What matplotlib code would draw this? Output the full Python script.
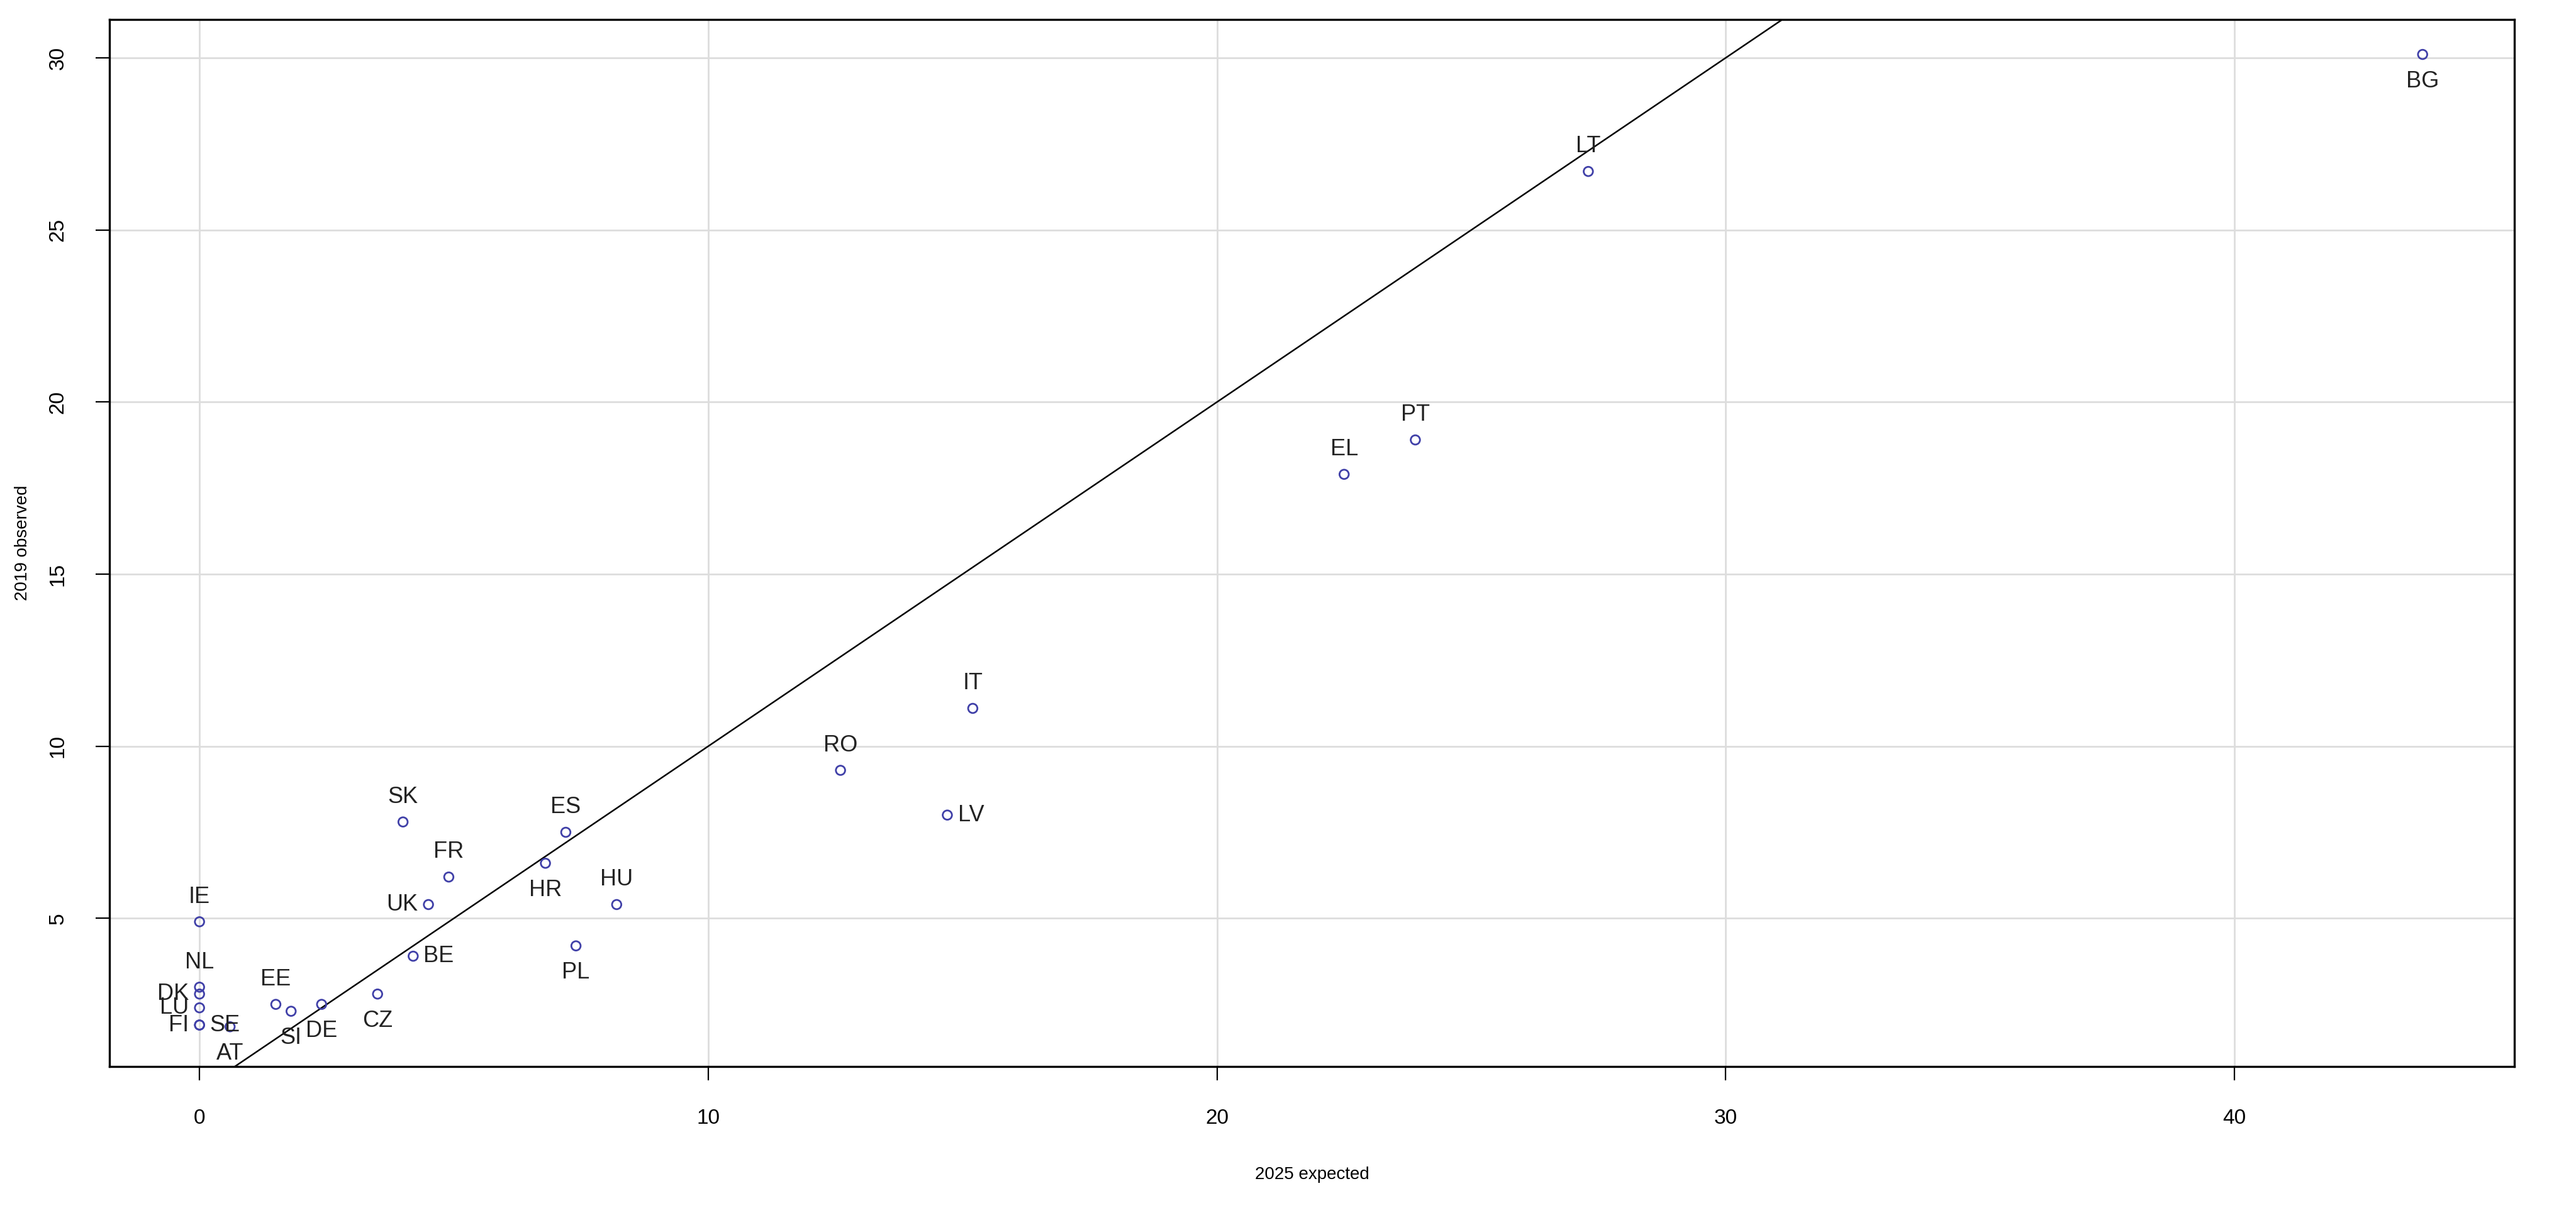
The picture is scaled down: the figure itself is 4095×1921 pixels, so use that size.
import matplotlib.pyplot as plt
import numpy as np

plt.rcParams['font.family'] = ['Liberation Sans', 'DejaVu Sans']

countries = ["BG", "LT", "PT", "EL", "IT", "RO", "LV", "ES", "SK", "FR", "HR", "UK", "HU",
             "IE", "PL", "BE", "NL", "DK", "LU", "EE", "SI", "DE", "CZ", "FI", "SE", "AT"]
expected = [43.7, 27.3, 23.9, 22.5, 15.2, 12.6, 14.7, 7.2, 4.0, 4.9, 6.8, 4.5, 8.2,
            0.0, 7.4, 4.2, 0.0, 0.0, 0.0, 1.5, 1.8, 2.4, 3.5, 0.0, 0.0, 0.6]
observed = [30.1, 26.7, 18.9, 17.9, 11.1, 9.3, 8.0, 7.5, 7.8, 6.2, 6.6, 5.4, 5.4,
            4.9, 4.2, 3.9, 3.0, 2.8, 2.4, 2.5, 2.3, 2.5, 2.8, 1.9, 1.9, 1.85]
# R text() pos: 1 below, 2 left, 3 above, 4 right
label_pos = [1, 3, 3, 3, 3, 3, 4, 3, 3, 3, 1, 2, 3,
             3, 1, 4, 3, 2, 2, 3, 1, 1, 1, 2, 4, 1]

fig = plt.figure(figsize=(20.475, 9.605), dpi=200)
ax = fig.add_axes([0.0425, 0.117, 0.9335, 0.867])

ax.scatter(expected, observed, s=28, facecolors="none", edgecolors="#4040a8", linewidths=1.0, zorder=3)

offsets = {1: (0, -9, "center", "top"), 2: (-6, 0, "right", "center"),
           3: (0, 8, "center", "bottom"), 4: (6, 0, "left", "center")}
for name, x, y, p in zip(countries, expected, observed, label_pos):
    dx, dy, ha, va = offsets[p]
    ax.annotate(name, (x, y), xytext=(dx, dy), textcoords="offset points",
                ha=ha, va=va, fontsize=13, color="#222222")

line = np.array([-5, 50])
ax.plot(line, line, color="black", linewidth=0.9, zorder=2)

ax.set_xlim(-1.77, 45.5)
ax.set_ylim(0.69, 31.12)
ax.set_xticks([0, 10, 20, 30, 40])
ax.set_yticks([5, 10, 15, 20, 25, 30])
ax.grid(True, color="#dddddd", linewidth=1.0)
ax.set_axisbelow(True)
ax.tick_params(labelsize=12, length=8, pad=16)
for lab in ax.get_yticklabels():
    lab.set_rotation(90)
    lab.set_va("center")
for s in ax.spines.values():
    s.set_linewidth(1.2)
ax.set_xlabel("2025 expected", fontsize=10, labelpad=22)
ax.set_ylabel("2019 observed", fontsize=10, labelpad=10)

fig.savefig("out.png", dpi=200)
